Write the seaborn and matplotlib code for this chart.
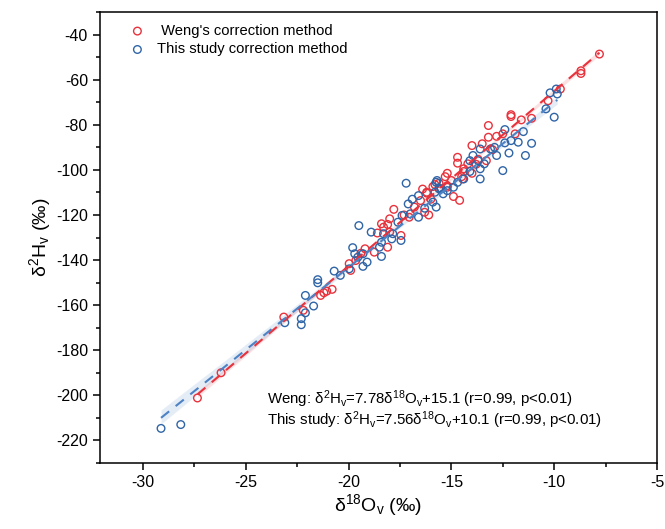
import numpy as np
import pandas as pd
import seaborn as sns
import matplotlib
matplotlib.use("Agg")
import matplotlib.pyplot as plt
from matplotlib.ticker import MultipleLocator

# ---------------- data ----------------
weng_o = [-27.35, -26.2, -23.15, -22.2, -21.36, -21.2, -21.06, -20.8, -19.97, -19.9,
          -19.65, -19.2, -18.75, -18.1, -18.3, -18.4, -18.0, -17.45, -17.05, -16.3,
          -16.5, -16.2, -16.2, -15.9, -15.6, -15.6, -15.2, -15.2, -15.0, -15.2,
          -14.9, -14.4, -14.2, -14.7, -14.7, -14.0, -13.5, -13.3, -13.2, -12.8,
          -13.2, -12.1, -12.1, -11.9, -11.6, -11.1, -10.3, -9.7, -8.7, -8.7,
          -7.8, -17.8, -17.3, -16.8, -16.0, -15.8, -14.5, -14.0, -13.8, -19.4,
          -18.6, -16.4, -15.3, -13.0, -12.5, -14.6, -18.1, -18.0, -16.1, -13.7,
          -14.4, -14.45]
weng_h = [-201.2, -190.0, -165.3, -162.3, -155.7, -154.5, -153.8, -153.0, -141.6, -144.6,
          -140.2, -135.0, -136.5, -134.3, -125.4, -123.9, -121.7, -129.1, -121.0, -118.8,
          -113.6, -110.3, -109.9, -107.4, -108.1, -105.9, -107.0, -107.7, -104.7, -101.5,
          -111.8, -99.5, -97.3, -97.0, -94.4, -89.2, -88.4, -95.9, -85.5, -85.1,
          -80.3, -75.5, -76.3, -84.0, -77.8, -77.1, -69.3, -64.1, -56.0, -57.2,
          -48.6, -117.5, -120.0, -116.5, -113.0, -106.5, -103.0, -101.5, -97.5, -137.0,
          -128.0, -108.5, -103.0, -91.0, -84.0, -113.5, -124.2, -127.6, -120.0, -95.3,
          -100.7, -104.0]

study_o = [-29.12, -28.16, -23.1, -22.3, -22.3, -22.1, -22.1, -21.7, -21.5, -21.5,
           -20.7, -20.4, -19.97, -19.3, -19.1, -19.55, -19.7, -19.3, -19.8, -18.4,
           -18.5, -18.4, -18.9, -19.5, -18.3, -17.9, -17.45, -17.85, -17.6, -17.4,
           -17.0, -16.6, -17.1, -16.6, -15.9, -15.74, -17.2, -15.74, -15.6, -15.2,
           -15.4, -15.8, -15.5, -14.9, -15.7, -14.7, -14.4, -13.6, -14.1, -13.6,
           -13.4, -14.1, -13.7, -13.95, -12.8, -13.6, -13.1, -12.9, -12.4, -11.75,
           -12.4, -11.5, -10.4, -10.2, -9.9, -9.85, -10.0, -11.1, -11.4, -12.1,
           -12.5, -12.2, -16.3, -16.9]
study_h = [-214.7, -213.0, -167.8, -166.0, -168.7, -163.4, -155.7, -160.4, -150.1, -148.7,
           -144.9, -146.8, -143.9, -142.8, -140.9, -138.7, -137.2, -137.2, -134.5, -138.4,
           -134.3, -132.1, -127.6, -124.7, -128.3, -130.6, -131.3, -128.3, -123.2, -120.2,
           -119.5, -121.0, -115.1, -111.4, -114.3, -116.5, -105.9, -105.5, -108.4, -109.2,
           -110.6, -109.9, -108.4, -107.7, -104.7, -105.5, -104.0, -104.0, -100.7, -99.5,
           -97.3, -95.9, -95.9, -93.6, -93.6, -90.7, -90.7, -90.0, -88.0, -87.7,
           -82.1, -83.0, -72.9, -65.8, -64.1, -66.3, -76.6, -88.2, -93.6, -87.0,
           -100.3, -92.5, -117.0, -113.0]

labels = [" Weng's correction method", "This study correction method"]
eq_text = ["Weng: δ$^2$H$_v$=7.78δ$^{18}$O$_v$+15.1 (r=0.99, p<0.01)",
           "This study: δ$^2$H$_v$=7.56δ$^{18}$O$_v$+10.1 (r=0.99, p<0.01)"]

red = "#E8323C"
blue = "#2F65A7"

sns.set_style("ticks", rc={"axes.edgecolor": "black", "text.color": "black",
                           "axes.labelcolor": "black", "xtick.color": "black",
                           "ytick.color": "black"})
plt.rcParams["font.family"] = ["Liberation Sans", "DejaVu Sans"]
plt.rcParams["mathtext.fontset"] = "custom"
plt.rcParams["mathtext.rm"] = "Liberation Sans"
plt.rcParams["mathtext.default"] = "regular"
plt.rcParams["axes.unicode_minus"] = False

weng = pd.DataFrame({"o": weng_o, "h": weng_h})
study = pd.DataFrame({"o": study_o, "h": study_h})

fig = plt.figure(figsize=(6.65, 5.29), dpi=100)
ax = fig.add_axes([0.150, 0.125, 0.838, 0.852])

# fitted lines with confidence bands
sns.regplot(data=weng, x="o", y="h", scatter=False, ci=80, color=red, ax=ax,
            line_kws=dict(ls=(0, (5, 4)), lw=1.5))
sns.regplot(data=study, x="o", y="h", scatter=False, ci=80, color="#4D82C4", ax=ax,
            line_kws=dict(ls=(0, (5, 4)), lw=1.5))

# open circle markers
sns.scatterplot(data=weng, x="o", y="h", ax=ax, marker="o", s=30,
                facecolor="none", edgecolor=red, linewidth=1.0, label=labels[0])
sns.scatterplot(data=study, x="o", y="h", ax=ax, marker="o", s=30,
                facecolor="none", edgecolor=blue, linewidth=1.0, label=labels[1])

ax.set_xlim(-32.1, -5)
ax.set_ylim(-230, -30)
ax.xaxis.set_major_locator(MultipleLocator(5))
ax.xaxis.set_minor_locator(MultipleLocator(2.5))
ax.yaxis.set_major_locator(MultipleLocator(20))
ax.yaxis.set_minor_locator(MultipleLocator(10))
ax.tick_params(which="major", direction="out", length=5, width=1.1, labelsize=11.5)
ax.tick_params(which="minor", direction="out", length=3, width=1.1)
for s in ax.spines.values():
    s.set_linewidth(1.1)
    s.set_visible(True)

ax.set_xlabel("δ$^{18}$O$_v$ (‰)", fontsize=14, labelpad=2)
ax.set_ylabel("δ$^2$H$_v$ (‰)", fontsize=14, labelpad=2)

ax.text(0.30, 0.131, eq_text[0], transform=ax.transAxes, fontsize=10.8)
ax.text(0.30, 0.084, eq_text[1], transform=ax.transAxes, fontsize=10.8)

leg = ax.legend(loc="upper left", frameon=False, fontsize=10.6, handletextpad=0.3,
                borderaxespad=0.4, labelspacing=0.3, bbox_to_anchor=(0.02, 1.0))

fig.savefig("out.png", dpi=100)
